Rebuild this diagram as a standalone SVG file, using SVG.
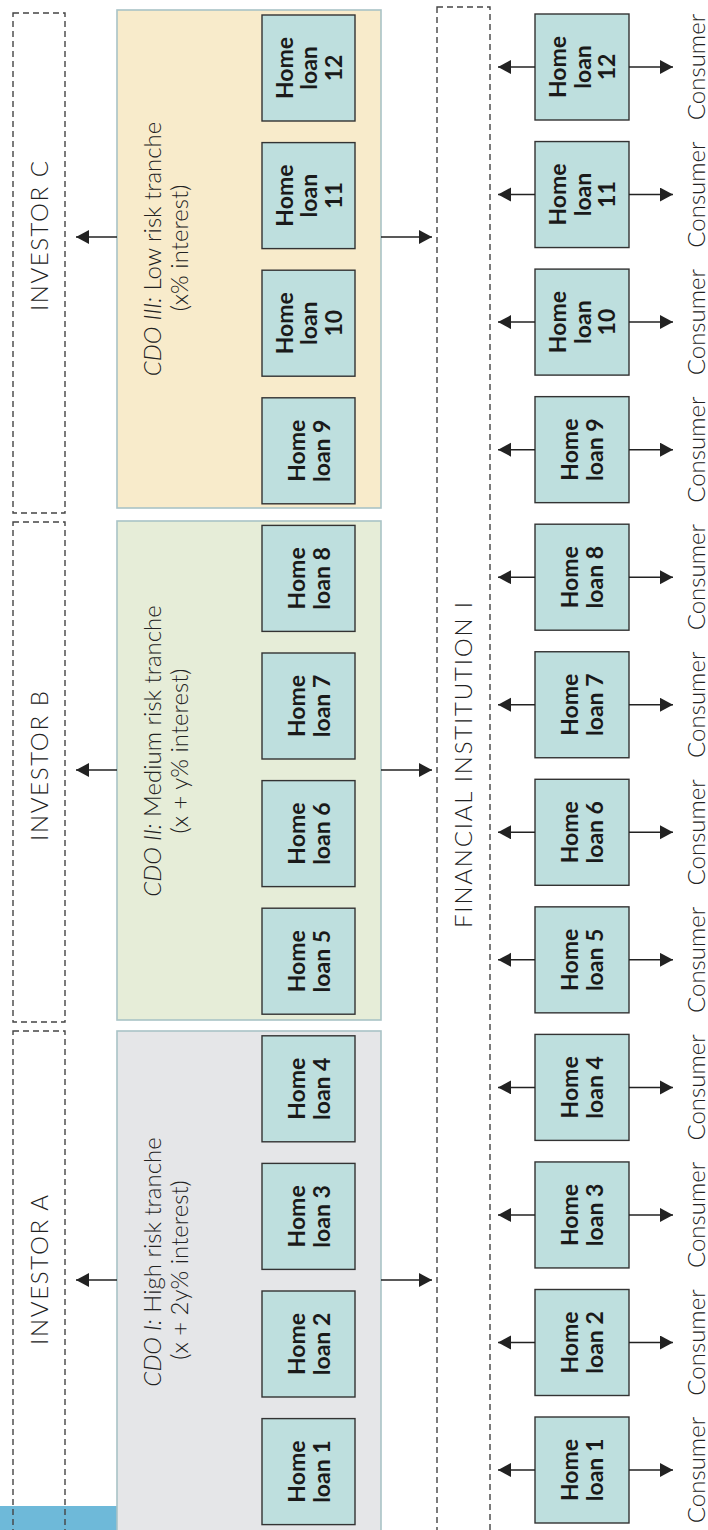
<svg xmlns="http://www.w3.org/2000/svg" width="708" height="1530" viewBox="0 0 708 1530">
<style>
.dash{fill:none;stroke:#444;stroke-width:1.4;stroke-dasharray:6,4}
.tr{stroke:#A9C3C6;stroke-width:1.6}
.loan{fill:#BEDFDE;stroke:#333;stroke-width:1.4}
.lt{font-family:Lato,"Open Sans",sans-serif;font-weight:bold;font-size:23px;fill:#1a1a1a;text-anchor:middle}
.t{font-family:Lato,"Open Sans",sans-serif;font-weight:300;font-size:24px;fill:#222;text-anchor:middle}
.it{font-style:italic}
.con{stroke:#222;stroke-width:1.5;fill:none;marker-end:url(#ah)}
</style>
<defs>
<marker id="ah" markerUnits="userSpaceOnUse" markerWidth="14" markerHeight="15" refX="13" refY="7" orient="auto">
<path d="M0,0 L13,7 L0,14 z" fill="#222"/>
</marker>
</defs>
<rect x="0" y="1506" width="117" height="24" fill="#6EB9D9"/>
<g id="investorC"><rect class="dash" x="13" y="13" width="52" height="500"/><text class="t" transform="translate(48,236) rotate(-90)" textLength="150" lengthAdjust="spacing">INVESTOR C</text></g>
<g id="investorB"><rect class="dash" x="13" y="522" width="52" height="500"/><text class="t" transform="translate(48,766) rotate(-90)" textLength="150" lengthAdjust="spacing">INVESTOR B</text></g>
<g id="investorA"><rect class="dash" x="13" y="1031" width="52" height="520"/><text class="t" transform="translate(48,1270) rotate(-90)" textLength="150" lengthAdjust="spacing">INVESTOR A</text></g>
<g id="trancheC"><rect class="tr" x="117" y="10" width="264" height="498" fill="#F8EBCB"/>
<text class="t" transform="translate(161,249) rotate(-90)"><tspan class="it">CDO III:</tspan> Low risk tranche</text>
<text class="t" transform="translate(188,248) rotate(-90)">(x% interest)</text></g>
<g id="trancheB"><rect class="tr" x="117" y="521" width="264" height="499" fill="#E6EDD8"/>
<text class="t" transform="translate(161,751) rotate(-90)"><tspan class="it">CDO II:</tspan>  Medium risk tranche</text>
<text class="t" transform="translate(188,751) rotate(-90)">(x + y% interest)</text></g>
<g id="trancheA"><rect class="tr" x="117" y="1031" width="264" height="520" fill="#E5E6E8"/>
<text class="t" transform="translate(161,1262) rotate(-90)"><tspan class="it">CDO I:</tspan> High risk tranche</text>
<text class="t" transform="translate(188,1270) rotate(-90)">(x + 2y% interest)</text></g>
<g id="fi"><rect class="dash" x="437" y="7" width="53" height="1540"/><text class="t" transform="translate(472,765) rotate(-90)" textLength="326" lengthAdjust="spacing">FINANCIAL INSTITUTION I</text></g>
<g id="tloans">
<g id="t12"><rect class="loan" x="262" y="15" width="93" height="106"/><text class="lt" transform="translate(308.5,68) rotate(-90)"><tspan x="0" y="-16">Home</tspan><tspan x="0" y="8.5">loan</tspan><tspan x="0" y="33">12</tspan></text></g>
<g id="t11"><rect class="loan" x="262" y="142.6" width="93" height="106"/><text class="lt" transform="translate(308.5,195.6) rotate(-90)"><tspan x="0" y="-16">Home</tspan><tspan x="0" y="8.5">loan</tspan><tspan x="0" y="33">11</tspan></text></g>
<g id="t10"><rect class="loan" x="262" y="270.2" width="93" height="106"/><text class="lt" transform="translate(308.5,323.2) rotate(-90)"><tspan x="0" y="-16">Home</tspan><tspan x="0" y="8.5">loan</tspan><tspan x="0" y="33">10</tspan></text></g>
<g id="t9"><rect class="loan" x="262" y="397.8" width="93" height="106"/><text class="lt" transform="translate(308.5,450.8) rotate(-90)"><tspan x="0" y="-3.5">Home</tspan><tspan x="0" y="21">loan 9</tspan></text></g>
<g id="t8"><rect class="loan" x="262" y="525.4" width="93" height="106"/><text class="lt" transform="translate(308.5,578.4) rotate(-90)"><tspan x="0" y="-3.5">Home</tspan><tspan x="0" y="21">loan 8</tspan></text></g>
<g id="t7"><rect class="loan" x="262" y="653" width="93" height="106"/><text class="lt" transform="translate(308.5,706) rotate(-90)"><tspan x="0" y="-3.5">Home</tspan><tspan x="0" y="21">loan 7</tspan></text></g>
<g id="t6"><rect class="loan" x="262" y="780.6" width="93" height="106"/><text class="lt" transform="translate(308.5,833.6) rotate(-90)"><tspan x="0" y="-3.5">Home</tspan><tspan x="0" y="21">loan 6</tspan></text></g>
<g id="t5"><rect class="loan" x="262" y="908.2" width="93" height="106"/><text class="lt" transform="translate(308.5,961.2) rotate(-90)"><tspan x="0" y="-3.5">Home</tspan><tspan x="0" y="21">loan 5</tspan></text></g>
<g id="t4"><rect class="loan" x="262" y="1035.8" width="93" height="106"/><text class="lt" transform="translate(308.5,1088.8) rotate(-90)"><tspan x="0" y="-3.5">Home</tspan><tspan x="0" y="21">loan 4</tspan></text></g>
<g id="t3"><rect class="loan" x="262" y="1163.4" width="93" height="106"/><text class="lt" transform="translate(308.5,1216.4) rotate(-90)"><tspan x="0" y="-3.5">Home</tspan><tspan x="0" y="21">loan 3</tspan></text></g>
<g id="t2"><rect class="loan" x="262" y="1291" width="93" height="106"/><text class="lt" transform="translate(308.5,1344) rotate(-90)"><tspan x="0" y="-3.5">Home</tspan><tspan x="0" y="21">loan 2</tspan></text></g>
<g id="t1"><rect class="loan" x="262" y="1418.6" width="93" height="106"/><text class="lt" transform="translate(308.5,1471.6) rotate(-90)"><tspan x="0" y="-3.5">Home</tspan><tspan x="0" y="21">loan 1</tspan></text></g>
</g>
<g id="bloans">
<g id="b12"><rect class="loan" x="535" y="14" width="94" height="106"/><text class="lt" transform="translate(582,67) rotate(-90)"><tspan x="0" y="-16">Home</tspan><tspan x="0" y="8.5">loan</tspan><tspan x="0" y="33">12</tspan></text><text class="t" transform="translate(705,67) rotate(-90)">Consumer</text></g>
<g id="b11"><rect class="loan" x="535" y="141.55" width="94" height="106"/><text class="lt" transform="translate(582,194.55) rotate(-90)"><tspan x="0" y="-16">Home</tspan><tspan x="0" y="8.5">loan</tspan><tspan x="0" y="33">11</tspan></text><text class="t" transform="translate(705,194.55) rotate(-90)">Consumer</text></g>
<g id="b10"><rect class="loan" x="535" y="269.1" width="94" height="106"/><text class="lt" transform="translate(582,322.1) rotate(-90)"><tspan x="0" y="-16">Home</tspan><tspan x="0" y="8.5">loan</tspan><tspan x="0" y="33">10</tspan></text><text class="t" transform="translate(705,322.1) rotate(-90)">Consumer</text></g>
<g id="b9"><rect class="loan" x="535" y="396.65" width="94" height="106"/><text class="lt" transform="translate(582,449.65) rotate(-90)"><tspan x="0" y="-4">Home</tspan><tspan x="0" y="21">loan 9</tspan></text><text class="t" transform="translate(705,449.65) rotate(-90)">Consumer</text></g>
<g id="b8"><rect class="loan" x="535" y="524.2" width="94" height="106"/><text class="lt" transform="translate(582,577.2) rotate(-90)"><tspan x="0" y="-4">Home</tspan><tspan x="0" y="21">loan 8</tspan></text><text class="t" transform="translate(705,577.2) rotate(-90)">Consumer</text></g>
<g id="b7"><rect class="loan" x="535" y="651.75" width="94" height="106"/><text class="lt" transform="translate(582,704.75) rotate(-90)"><tspan x="0" y="-4">Home</tspan><tspan x="0" y="21">loan 7</tspan></text><text class="t" transform="translate(705,704.75) rotate(-90)">Consumer</text></g>
<g id="b6"><rect class="loan" x="535" y="779.3" width="94" height="106"/><text class="lt" transform="translate(582,832.3) rotate(-90)"><tspan x="0" y="-4">Home</tspan><tspan x="0" y="21">loan 6</tspan></text><text class="t" transform="translate(705,832.3) rotate(-90)">Consumer</text></g>
<g id="b5"><rect class="loan" x="535" y="906.85" width="94" height="106"/><text class="lt" transform="translate(582,959.85) rotate(-90)"><tspan x="0" y="-4">Home</tspan><tspan x="0" y="21">loan 5</tspan></text><text class="t" transform="translate(705,959.85) rotate(-90)">Consumer</text></g>
<g id="b4"><rect class="loan" x="535" y="1034.4" width="94" height="106"/><text class="lt" transform="translate(582,1087.4) rotate(-90)"><tspan x="0" y="-4">Home</tspan><tspan x="0" y="21">loan 4</tspan></text><text class="t" transform="translate(705,1087.4) rotate(-90)">Consumer</text></g>
<g id="b3"><rect class="loan" x="535" y="1161.95" width="94" height="106"/><text class="lt" transform="translate(582,1214.95) rotate(-90)"><tspan x="0" y="-4">Home</tspan><tspan x="0" y="21">loan 3</tspan></text><text class="t" transform="translate(705,1214.95) rotate(-90)">Consumer</text></g>
<g id="b2"><rect class="loan" x="535" y="1289.5" width="94" height="106"/><text class="lt" transform="translate(582,1342.5) rotate(-90)"><tspan x="0" y="-4">Home</tspan><tspan x="0" y="21">loan 2</tspan></text><text class="t" transform="translate(705,1342.5) rotate(-90)">Consumer</text></g>
<g id="b1"><rect class="loan" x="535" y="1417" width="94" height="106"/><text class="lt" transform="translate(582,1470) rotate(-90)"><tspan x="0" y="-4">Home</tspan><tspan x="0" y="21">loan 1</tspan></text><text class="t" transform="translate(705,1470) rotate(-90)">Consumer</text></g>
</g>
<g id="connectors">
<path class="con" d="M117,237H76"/><path class="con" d="M381,237H432"/>
<path class="con" d="M117,770H76"/><path class="con" d="M381,770H432"/>
<path class="con" d="M117,1280H76"/><path class="con" d="M381,1280H432"/>
<path class="con" d="M535,67H498"/><path class="con" d="M629,67H673"/>
<path class="con" d="M535,194.55H498"/><path class="con" d="M629,194.55H673"/>
<path class="con" d="M535,322.1H498"/><path class="con" d="M629,322.1H673"/>
<path class="con" d="M535,449.65H498"/><path class="con" d="M629,449.65H673"/>
<path class="con" d="M535,577.2H498"/><path class="con" d="M629,577.2H673"/>
<path class="con" d="M535,704.75H498"/><path class="con" d="M629,704.75H673"/>
<path class="con" d="M535,832.3H498"/><path class="con" d="M629,832.3H673"/>
<path class="con" d="M535,959.85H498"/><path class="con" d="M629,959.85H673"/>
<path class="con" d="M535,1087.4H498"/><path class="con" d="M629,1087.4H673"/>
<path class="con" d="M535,1214.95H498"/><path class="con" d="M629,1214.95H673"/>
<path class="con" d="M535,1342.5H498"/><path class="con" d="M629,1342.5H673"/>
<path class="con" d="M535,1470H498"/><path class="con" d="M629,1470H673"/>
</g>
</svg>
